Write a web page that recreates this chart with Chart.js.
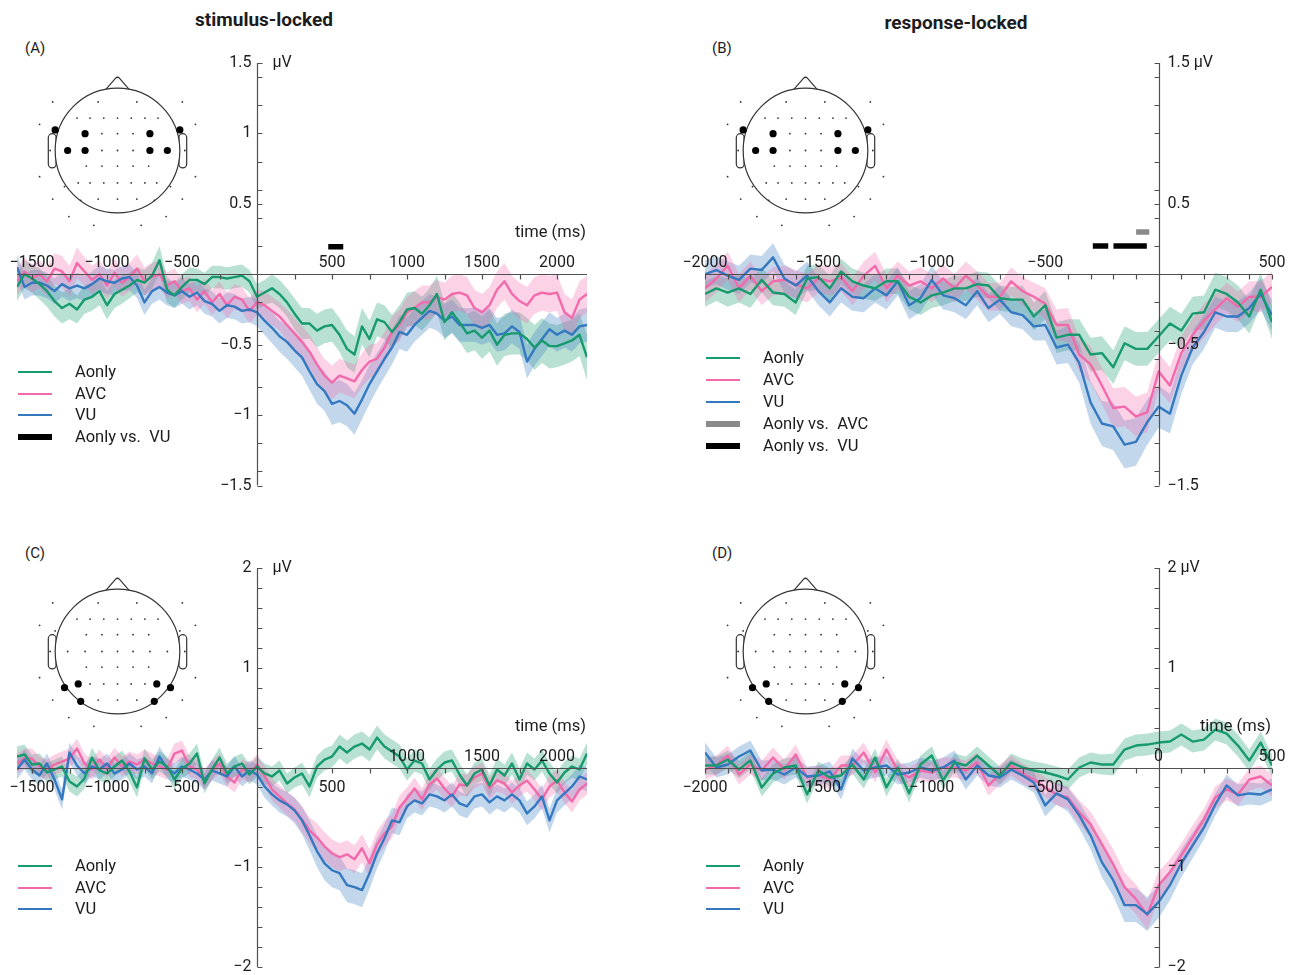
<!DOCTYPE html>
<html><head><meta charset="utf-8">
<script src="https://cdn.jsdelivr.net/npm/chart.js@4.4.1/dist/chart.umd.min.js"></script>
<style>
html,body{margin:0;padding:0;background:#fff;}
body{width:1296px;height:975px;position:relative;overflow:hidden;font-family:Roboto,'DejaVu Sans',sans-serif;color:#1c1c1c;}
canvas{position:absolute;}
.t{position:absolute;white-space:pre;line-height:20px;font-size:16.5px;}
.sw{position:absolute;width:34px;}
</style></head><body>
<script>
// ---------------- time axes (ms) ----------------
const timeStim = [-1600,-1550,-1500,-1450,-1400,-1350,-1300,-1250,-1200,-1150,
 -1100,-1050,-1000,-950,-900,-850,-800,-750,-700,-650,
 -600,-550,-500,-450,-400,-350,-300,-250,-200,-150,
 -100,-50,0,50,100,150,200,250,300,350,
 400,450,500,550,600,650,700,750,800,850,
 900,950,1000,1050,1100,1150,1200,1250,1300,1350,
 1400,1450,1500,1550,1600,1650,1700,1750,1800,1850,
 1900,1950,2000,2050,2100,2150,2200];
const timeResp = [-2000,-1950,-1900,-1850,-1800,-1750,-1700,-1650,-1600,-1550,
 -1500,-1450,-1400,-1350,-1300,-1250,-1200,-1150,-1100,-1050,
 -1000,-950,-900,-850,-800,-750,-700,-650,-600,-550,
 -500,-450,-400,-350,-300,-250,-200,-150,-100,-50,
 0,50,100,150,200,250,300,350,400,450,
 500];

// ---------------- (A) stimulus-locked, fronto-temporal ----------------
const a_Aonly = [-0.09,0.00,-0.03,-0.07,-0.12,-0.19,-0.24,-0.21,-0.25,-0.18,
 -0.16,-0.12,-0.22,-0.14,-0.11,-0.08,-0.04,-0.06,-0.01,0.10,
 -0.11,-0.15,-0.09,-0.04,-0.04,-0.07,-0.02,-0.02,-0.03,-0.02,
 -0.01,-0.05,-0.16,-0.13,-0.10,-0.14,-0.20,-0.28,-0.35,-0.35,
 -0.40,-0.37,-0.36,-0.43,-0.53,-0.57,-0.37,-0.46,-0.32,-0.34,
 -0.41,-0.34,-0.25,-0.24,-0.28,-0.22,-0.14,-0.34,-0.27,-0.34,
 -0.42,-0.40,-0.45,-0.40,-0.50,-0.43,-0.42,-0.42,-0.46,-0.52,
 -0.47,-0.51,-0.51,-0.49,-0.47,-0.43,-0.59];
const a_AVC = [-0.05,0.02,-0.03,0.00,-0.05,0.04,0.02,-0.05,0.08,0.02,
 -0.04,0.00,-0.08,0.01,-0.06,-0.02,0.04,-0.05,-0.02,0.00,
 -0.08,-0.05,-0.12,-0.10,-0.18,-0.12,-0.20,-0.14,-0.22,-0.16,
 -0.18,-0.26,-0.20,-0.22,-0.26,-0.30,-0.36,-0.42,-0.48,-0.55,
 -0.64,-0.72,-0.77,-0.72,-0.74,-0.76,-0.68,-0.62,-0.60,-0.52,
 -0.41,-0.36,-0.27,-0.24,-0.20,-0.20,-0.16,-0.18,-0.14,-0.13,
 -0.15,-0.24,-0.27,-0.22,-0.11,-0.05,-0.14,-0.19,-0.22,-0.15,
 -0.13,-0.14,-0.13,-0.27,-0.31,-0.18,-0.14];
const a_VU = [0.05,-0.09,-0.06,-0.06,-0.08,-0.12,-0.07,-0.10,-0.08,-0.10,
 -0.07,-0.03,-0.05,-0.06,-0.03,-0.02,-0.08,-0.20,-0.12,-0.09,
 -0.13,-0.15,-0.12,-0.16,-0.13,-0.19,-0.21,-0.26,-0.22,-0.23,
 -0.26,-0.25,-0.27,-0.33,-0.38,-0.44,-0.48,-0.54,-0.59,-0.69,
 -0.78,-0.83,-0.92,-0.90,-0.93,-0.99,-0.89,-0.78,-0.69,-0.60,
 -0.52,-0.41,-0.43,-0.36,-0.31,-0.26,-0.28,-0.33,-0.30,-0.36,
 -0.36,-0.36,-0.38,-0.36,-0.43,-0.42,-0.37,-0.41,-0.62,-0.53,
 -0.46,-0.39,-0.43,-0.40,-0.43,-0.37,-0.36];
const a_AonlySE = [0.10,0.10,0.10,0.11,0.11,0.11,0.11,0.11,0.10,0.10,
 0.10,0.10,0.10,0.10,0.10,0.09,0.09,0.09,0.09,0.10,
 0.09,0.09,0.09,0.09,0.08,0.08,0.08,0.08,0.08,0.08,
 0.08,0.08,0.09,0.09,0.10,0.10,0.10,0.11,0.11,0.11,
 0.12,0.12,0.12,0.12,0.13,0.13,0.13,0.13,0.12,0.12,
 0.12,0.12,0.12,0.12,0.12,0.12,0.13,0.13,0.14,0.14,
 0.14,0.14,0.15,0.15,0.15,0.15,0.15,0.15,0.15,0.16,
 0.16,0.16,0.15,0.15,0.15,0.15,0.16];
const a_AVCSE = [0.10,0.10,0.10,0.10,0.10,0.11,0.11,0.11,0.11,0.10,
 0.10,0.10,0.10,0.10,0.10,0.10,0.10,0.10,0.10,0.10,
 0.09,0.09,0.09,0.09,0.09,0.09,0.09,0.09,0.09,0.09,
 0.09,0.09,0.09,0.10,0.10,0.10,0.11,0.11,0.11,0.12,
 0.12,0.12,0.12,0.12,0.12,0.12,0.12,0.12,0.11,0.11,
 0.11,0.11,0.11,0.12,0.12,0.12,0.12,0.12,0.13,0.13,
 0.13,0.13,0.13,0.13,0.13,0.13,0.13,0.13,0.13,0.13,
 0.13,0.13,0.13,0.13,0.13,0.13,0.13];
const a_VUSE = [0.09,0.09,0.09,0.09,0.09,0.09,0.09,0.09,0.09,0.09,
 0.09,0.09,0.09,0.09,0.09,0.09,0.09,0.09,0.09,0.09,
 0.09,0.09,0.09,0.09,0.09,0.09,0.09,0.09,0.09,0.09,
 0.09,0.09,0.10,0.10,0.11,0.11,0.12,0.12,0.13,0.13,
 0.14,0.14,0.15,0.15,0.15,0.15,0.14,0.14,0.13,0.13,
 0.12,0.12,0.12,0.12,0.12,0.12,0.12,0.12,0.12,0.12,
 0.12,0.12,0.12,0.12,0.12,0.12,0.12,0.12,0.12,0.12,
 0.12,0.12,0.12,0.12,0.12,0.12,0.12];
const a_sigVU = [[475, 575]];
const a_sigLevel = 0.195;

// ---------------- (B) response-locked, fronto-temporal ----------------
const b_Aonly = [-0.14,-0.10,-0.13,-0.10,-0.14,-0.04,-0.13,-0.14,-0.20,-0.03,
 -0.02,-0.10,0.02,-0.05,-0.08,-0.10,-0.05,-0.05,-0.16,-0.20,
 -0.15,-0.13,-0.10,-0.10,-0.07,-0.08,-0.17,-0.18,-0.18,-0.30,
 -0.22,-0.45,-0.43,-0.43,-0.57,-0.56,-0.66,-0.49,-0.53,-0.53,
 -0.44,-0.35,-0.40,-0.28,-0.27,-0.11,-0.14,-0.20,-0.30,-0.11,
 -0.34];
const b_AVC = [-0.10,-0.03,0.06,-0.10,-0.01,-0.12,-0.05,-0.04,-0.07,-0.10,
 -0.03,-0.05,-0.02,-0.12,-0.01,0.06,-0.10,-0.01,-0.08,-0.05,
 -0.10,-0.03,-0.10,-0.01,-0.08,-0.16,-0.16,-0.05,-0.12,-0.16,
 -0.21,-0.36,-0.36,-0.57,-0.64,-0.79,-0.95,-0.94,-1.01,-0.98,
 -0.69,-0.79,-0.56,-0.43,-0.33,-0.25,-0.17,-0.23,-0.16,-0.16,
 -0.09];
const b_VU = [0.00,0.03,-0.01,-0.04,0.04,0.03,0.12,-0.03,-0.08,-0.01,
 -0.12,-0.20,-0.10,-0.16,-0.17,-0.10,-0.15,-0.05,-0.22,-0.17,
 -0.04,-0.15,-0.17,-0.22,-0.12,-0.24,-0.18,-0.27,-0.29,-0.37,
 -0.36,-0.52,-0.50,-0.63,-0.91,-1.06,-1.08,-1.21,-1.19,-1.05,
 -0.94,-0.99,-0.72,-0.52,-0.41,-0.27,-0.30,-0.30,-0.24,-0.14,
 -0.29];
const b_AonlySE = [0.09,0.09,0.10,0.10,0.10,0.09,0.09,0.09,0.09,0.09,
 0.09,0.09,0.09,0.09,0.09,0.09,0.09,0.09,0.09,0.09,
 0.09,0.09,0.09,0.09,0.09,0.09,0.09,0.09,0.10,0.10,
 0.10,0.11,0.11,0.11,0.12,0.12,0.12,0.12,0.12,0.12,
 0.12,0.12,0.12,0.12,0.12,0.12,0.12,0.12,0.12,0.12,
 0.12];
const b_AVCSE = [0.10,0.10,0.10,0.10,0.10,0.10,0.10,0.10,0.10,0.10,
 0.10,0.10,0.10,0.10,0.10,0.10,0.10,0.10,0.10,0.10,
 0.10,0.10,0.10,0.10,0.10,0.10,0.10,0.10,0.10,0.10,
 0.11,0.11,0.12,0.12,0.13,0.13,0.14,0.14,0.14,0.14,
 0.13,0.13,0.12,0.12,0.12,0.11,0.11,0.11,0.11,0.11,
 0.11];
const b_VUSE = [0.10,0.10,0.10,0.10,0.10,0.10,0.10,0.10,0.10,0.10,
 0.10,0.10,0.10,0.10,0.10,0.10,0.10,0.10,0.10,0.10,
 0.10,0.10,0.10,0.10,0.10,0.10,0.10,0.10,0.10,0.10,
 0.11,0.12,0.13,0.14,0.15,0.16,0.17,0.17,0.17,0.16,
 0.15,0.14,0.13,0.12,0.12,0.11,0.11,0.11,0.11,0.11,
 0.11];
const b_sigAVC = [[-99, -41]];
const b_sigVU = [[-290, -222], [-199, -52]];
const b_sigLevelAVC = 0.30;
const b_sigLevelVU = 0.20;

// ---------------- (C) stimulus-locked, parieto-occipital ----------------
const c_Aonly = [0.11,0.13,0.03,0.04,-0.05,-0.02,0.01,-0.14,-0.19,-0.11,
 0.10,-0.03,-0.06,0.01,0.07,-0.04,-0.20,0.09,-0.02,0.06,
 0.01,-0.12,-0.01,0.04,0.14,-0.16,-0.02,0.10,-0.06,0.01,
 0.04,-0.07,0.01,-0.06,-0.09,-0.03,-0.16,-0.10,-0.06,-0.19,
 0.01,0.08,0.11,0.21,0.15,0.21,0.24,0.18,0.30,0.21,
 0.16,0.11,-0.02,0.07,0.04,-0.12,-0.02,0.05,0.07,-0.07,
 -0.18,-0.06,-0.02,-0.18,-0.02,-0.08,0.04,-0.12,0.04,-0.02,
 0.07,-0.06,-0.15,-0.05,0.01,-0.02,0.14];
const c_AVC = [0.04,0.09,0.09,0.01,-0.02,0.03,0.06,0.09,0.19,0.04,
 -0.02,0.08,-0.01,0.10,0.01,0.06,0.03,0.08,0.04,0.01,
 -0.02,0.14,0.17,0.01,-0.02,-0.12,-0.03,0.04,-0.09,-0.15,
 -0.02,-0.05,0.03,-0.08,-0.22,-0.29,-0.36,-0.42,-0.52,-0.63,
 -0.70,-0.79,-0.86,-0.90,-0.87,-0.92,-0.81,-0.96,-0.77,-0.66,
 -0.59,-0.40,-0.31,-0.21,-0.32,-0.17,-0.11,-0.21,-0.29,-0.17,
 -0.18,-0.10,-0.06,-0.21,-0.13,-0.16,-0.25,-0.18,-0.13,-0.22,
 -0.32,-0.19,-0.13,-0.25,-0.34,-0.22,-0.16];
const c_VU = [-0.02,0.08,-0.02,-0.08,0.04,-0.12,-0.32,0.15,0.02,-0.06,
 0.01,-0.02,0.04,-0.06,-0.02,0.04,-0.02,0.01,-0.06,0.11,
 -0.01,-0.06,0.01,-0.02,-0.06,-0.12,-0.03,-0.06,-0.09,0.01,
 -0.09,-0.03,-0.07,-0.19,-0.27,-0.33,-0.37,-0.43,-0.53,-0.68,
 -0.84,-0.96,-1.03,-1.06,-1.18,-1.20,-1.23,-1.06,-0.86,-0.71,
 -0.53,-0.55,-0.39,-0.33,-0.36,-0.27,-0.29,-0.33,-0.27,-0.36,
 -0.39,-0.29,-0.27,-0.35,-0.29,-0.33,-0.27,-0.33,-0.46,-0.39,
 -0.29,-0.53,-0.33,-0.26,-0.19,-0.09,-0.12];
const c_AonlySE = [0.10,0.10,0.10,0.10,0.10,0.10,0.10,0.10,0.10,0.10,
 0.10,0.10,0.10,0.10,0.10,0.10,0.10,0.10,0.10,0.10,
 0.10,0.10,0.10,0.10,0.10,0.10,0.10,0.10,0.10,0.10,
 0.10,0.10,0.10,0.10,0.10,0.10,0.10,0.10,0.11,0.11,
 0.11,0.11,0.11,0.12,0.12,0.12,0.12,0.12,0.12,0.12,
 0.12,0.12,0.11,0.11,0.11,0.11,0.11,0.11,0.11,0.11,
 0.11,0.11,0.11,0.11,0.11,0.11,0.11,0.11,0.11,0.11,
 0.11,0.11,0.11,0.11,0.11,0.11,0.11];
const c_AVCSE = [0.10,0.10,0.10,0.10,0.10,0.10,0.10,0.10,0.10,0.10,
 0.10,0.10,0.10,0.10,0.10,0.10,0.10,0.10,0.10,0.10,
 0.10,0.10,0.10,0.10,0.10,0.10,0.10,0.10,0.10,0.10,
 0.10,0.10,0.10,0.10,0.11,0.11,0.12,0.12,0.13,0.13,
 0.14,0.14,0.14,0.14,0.14,0.14,0.14,0.14,0.13,0.13,
 0.12,0.12,0.11,0.11,0.11,0.11,0.11,0.11,0.11,0.11,
 0.11,0.11,0.11,0.11,0.11,0.11,0.11,0.11,0.11,0.11,
 0.11,0.11,0.11,0.11,0.11,0.11,0.11];
const c_VUSE = [0.10,0.10,0.10,0.10,0.10,0.10,0.10,0.10,0.10,0.10,
 0.10,0.10,0.10,0.10,0.10,0.10,0.10,0.10,0.10,0.10,
 0.10,0.10,0.10,0.10,0.10,0.10,0.10,0.10,0.10,0.10,
 0.10,0.10,0.10,0.11,0.11,0.12,0.12,0.13,0.14,0.15,
 0.16,0.17,0.17,0.17,0.17,0.17,0.17,0.16,0.15,0.14,
 0.13,0.13,0.12,0.12,0.12,0.12,0.12,0.12,0.12,0.12,
 0.12,0.12,0.12,0.12,0.12,0.12,0.12,0.12,0.12,0.12,
 0.12,0.12,0.12,0.12,0.12,0.12,0.12];

// ---------------- (D) response-locked, parieto-occipital ----------------
const d_Aonly = [0.02,0.02,0.08,-0.02,0.07,-0.20,-0.06,0.00,0.02,-0.27,
 -0.03,-0.10,-0.08,0.03,-0.12,0.10,-0.20,0.00,-0.26,0.03,
 0.12,-0.13,0.05,0.02,0.12,0.02,-0.08,0.05,0.00,-0.03,
 -0.05,-0.08,-0.12,0.00,0.05,0.03,0.03,0.18,0.22,0.23,
 0.25,0.26,0.33,0.26,0.28,0.38,0.34,0.22,0.07,0.25,
 0.02];
const d_AVC = [-0.02,0.02,0.12,-0.07,0.03,-0.03,0.10,-0.02,0.13,-0.10,
 -0.08,-0.12,0.02,0.02,0.15,-0.05,0.18,-0.03,-0.10,-0.03,
 -0.05,0.00,0.00,-0.03,0.05,-0.18,-0.07,0.02,-0.06,-0.12,
 -0.20,-0.27,-0.30,-0.45,-0.57,-0.77,-0.97,-1.20,-1.32,-1.48,
 -1.18,-1.05,-0.88,-0.70,-0.52,-0.30,-0.22,-0.27,-0.12,-0.09,
 -0.18];
const d_VU = [0.15,0.00,0.03,0.11,0.17,-0.03,-0.02,-0.07,0.00,-0.09,
 -0.08,-0.04,-0.22,0.09,-0.03,0.00,0.02,-0.07,-0.05,0.00,
 -0.03,0.00,0.07,-0.12,0.02,-0.08,-0.10,-0.02,-0.08,-0.15,
 -0.38,-0.26,-0.32,-0.48,-0.68,-0.95,-1.13,-1.38,-1.38,-1.47,
 -1.35,-1.18,-0.96,-0.78,-0.60,-0.37,-0.18,-0.28,-0.26,-0.27,
 -0.22];
const d_AonlySE = [0.09,0.09,0.09,0.09,0.09,0.09,0.09,0.09,0.09,0.09,
 0.09,0.09,0.09,0.09,0.09,0.09,0.09,0.09,0.09,0.09,
 0.09,0.09,0.09,0.09,0.09,0.09,0.09,0.09,0.09,0.09,
 0.09,0.09,0.10,0.10,0.10,0.10,0.11,0.11,0.11,0.11,
 0.11,0.11,0.11,0.11,0.11,0.11,0.11,0.11,0.11,0.11,
 0.11];
const d_AVCSE = [0.10,0.10,0.10,0.10,0.10,0.10,0.10,0.10,0.10,0.10,
 0.10,0.10,0.10,0.10,0.10,0.10,0.10,0.10,0.10,0.10,
 0.10,0.10,0.10,0.10,0.10,0.10,0.10,0.10,0.10,0.10,
 0.10,0.11,0.11,0.12,0.13,0.14,0.15,0.15,0.15,0.15,
 0.14,0.13,0.12,0.12,0.11,0.11,0.11,0.11,0.11,0.11,
 0.11];
const d_VUSE = [0.10,0.10,0.10,0.10,0.10,0.10,0.10,0.10,0.10,0.10,
 0.10,0.10,0.10,0.10,0.10,0.10,0.10,0.10,0.10,0.10,
 0.10,0.10,0.10,0.10,0.10,0.10,0.10,0.10,0.10,0.10,
 0.11,0.11,0.12,0.13,0.14,0.15,0.16,0.17,0.17,0.17,
 0.16,0.15,0.14,0.13,0.12,0.11,0.11,0.11,0.11,0.11,
 0.11];

// ---------------- tick labels ----------------
const xLabelsA_above = [-1500,-1000,-500,500,1000,1500,2000];
const xLabelsB_above = [-2000,-1500,-1000,-500,500];
const xLabelsC_below = [-1500,-1000,-500,500];
const xLabelsC_above = [1000,1500,2000];
const xLabelsD_below = [-2000,-1500,-1000,-500];
const xLabelsD_above = [0,500];
const yLabelsA = [1.5,1,0.5,-0.5,-1,-1.5];
const yLabelsB = [1.5,0.5,-0.5,-1.5];
const yLabelsCD = [2,1,-1,-2];
const yTicksAB = [-1.5,-1.4,-1.2,-1,-0.8,-0.6,-0.5,-0.4,-0.2,0.2,0.4,0.5,0.6,0.8,1,1.2,1.4,1.5];
const yTicksCD = [-2,-1.8,-1.6,-1.4,-1.2,-1,-0.8,-0.6,-0.4,-0.2,0.2,0.4,0.6,0.8,1,1.2,1.4,1.6,1.8,2];
const xTicksStim = [-1500,-1250,-1000,-750,-500,-250,250,500,750,1000,1250,1500,1750,2000];
const xTicksResp = [-2000,-1900,-1800,-1700,-1600,-1500,-1400,-1300,-1200,-1100,-1000,-900,-800,-700,-600,-500,-400,-300,-200,-100,100,200,300,400,500];

// ---------------- head montage (normalised units, radius 1) ----------------
const headGrid = [
 [-1.04,-0.78],[-0.31,-0.78],[0.31,-0.78],[1.04,-0.78],
 [-0.65,-0.52],[-0.44,-0.52],[-0.22,-0.52],[0,-0.52],[0.22,-0.52],[0.44,-0.52],[0.65,-0.52],
 [-1.25,-0.42],[1.25,-0.42],[-1.0,-0.33],[1.0,-0.33],
 [-0.5,-0.27],[-0.25,-0.27],[0,-0.27],[0.25,-0.27],[0.5,-0.27],
 [-1.08,0],[-0.8,0],[-0.52,0],[-0.25,0],[0,0],[0.25,0],[0.52,0],[0.8,0],[1.08,0],
 [-0.5,0.25],[-0.25,0.25],[0,0.25],[0.25,0.25],[0.5,0.25],
 [-1.25,0.42],[1.25,0.42],
 [-0.63,0.52],[-0.44,0.52],[-0.22,0.52],[0,0.52],[0.22,0.52],[0.44,0.52],[0.63,0.52],
 [-0.85,0.58],[0.85,0.58],
 [-1.04,0.78],[-0.31,0.78],[0,0.78],[0.31,0.78],[1.04,0.78],
 [-0.59,0.8],[0.59,0.8],
 [-0.78,1.06],[0.78,1.06],[-0.38,1.2],[0.38,1.2]];
const headSelFT = [[-1.0,-0.33],[-0.52,-0.27],[-0.8,0],[-0.52,0],[1.0,-0.33],[0.52,-0.27],[0.8,0],[0.52,0]];
const headSelPO = [[-0.85,0.58],[-0.63,0.52],[-0.59,0.8],[0.85,0.58],[0.63,0.52],[0.59,0.8]];

// ---------------- styling ----------------
const GREEN = '#179a6d', PINK = '#f26aab', BLUE = '#3479c0', GREY = '#8a8a8a';
const TXT = '#1c1c1c', AX = '#505050';
const FONT = "Roboto, 'DejaVu Sans', sans-serif";

function rgba(hex, a){const n=parseInt(hex.slice(1),16);return `rgba(${n>>16&255},${n>>8&255},${n&255},${a})`;}
function fmt(v){return String(v).replace('-', '\u2212');}

function bandSets(times, vals, se, color){
  const up = times.map((t,i)=>({x:t, y: vals[i] + (se[i] ?? se[se.length-1])}));
  const lo = times.map((t,i)=>({x:t, y: vals[i] - (se[i] ?? se[se.length-1])}));
  return [
    {data:up, borderWidth:0, pointRadius:0, fill:'+1', backgroundColor:rgba(color,0.3), order:10},
    {data:lo, borderWidth:0, pointRadius:0, fill:false, backgroundColor:'transparent', order:10}
  ];
}
function lineSet(times, vals, color, order){
  return {data: times.map((t,i)=>({x:t,y:vals[i]})), borderColor:color, borderWidth:2.4, pointRadius:0, fill:false, order:order, borderJoinStyle:'round'};
}
function sigSets(intervals, level, color){
  return intervals.map(([a,b])=>({data:[{x:a,y:level},{x:b,y:level}], borderColor:color, borderWidth:5.5, borderCapStyle:'butt', pointRadius:0, fill:false, order:0}));
}

function axesPlugin(cfg){
  return {id:'erpAxes', afterDatasetsDraw(chart){
    const {ctx, chartArea:ca} = chart; const xs = chart.scales.x, ys = chart.scales.y;
    const x0 = Math.round(xs.getPixelForValue(0)) + 0.5;
    const y0 = Math.round(ys.getPixelForValue(0)) + 0.5;
    ctx.save();
    ctx.strokeStyle = AX; ctx.lineWidth = 1.2;
    ctx.beginPath();
    ctx.moveTo(ca.left, y0); ctx.lineTo(ca.right, y0);
    cfg.xTicks.forEach(t=>{const p=Math.round(xs.getPixelForValue(t))+0.5; ctx.moveTo(p,y0); ctx.lineTo(p,y0+5);});
    ctx.moveTo(x0, ca.top); ctx.lineTo(x0, ca.bottom);
    cfg.yTicks.forEach(v=>{const p=Math.round(ys.getPixelForValue(v))+0.5; ctx.moveTo(x0,p); ctx.lineTo(x0+cfg.yTickDir*5,p);});
    ctx.stroke();
    ctx.fillStyle = TXT; ctx.font = '16px ' + FONT; ctx.textBaseline = 'middle'; ctx.textAlign = 'center';
    (cfg.xAbove||[]).forEach(t=>ctx.fillText(fmt(t), xs.getPixelForValue(t), y0-12));
    (cfg.xBelow||[]).forEach(t=>ctx.fillText(fmt(t), xs.getPixelForValue(t), y0+19));
    if (cfg.ySide === 'left'){
      ctx.textAlign = 'right';
      cfg.yLabels.forEach(v=>ctx.fillText(fmt(v), x0-6, ys.getPixelForValue(v)));
      ctx.textAlign = 'left';
      ctx.fillText('\u00b5V', x0+15, ys.getPixelForValue(cfg.yUnitAt));
    } else {
      ctx.textAlign = 'left';
      cfg.yLabels.forEach(v=>ctx.fillText(fmt(v) + (v===cfg.yUnitAt?' \u00b5V':''), x0+8, ys.getPixelForValue(v)));
    }
    if (cfg.timeLabel){ ctx.font = '16.5px ' + FONT; ctx.textAlign='right'; ctx.fillText('time (ms)', ca.right-1, y0-42); }
    ctx.restore();
  }};
}

function makeCanvas(left, top, w, h, z){
  const c = document.createElement('canvas');
  c.width = w; c.height = h;
  c.style.left = left+'px'; c.style.top = top+'px'; c.style.width = w+'px'; c.style.height = h+'px';
  c.style.zIndex = z||1;
  document.body.appendChild(c); return c;
}

function erpChart(box, pad, times, xr, yr, series, sigs, cfg){
  const cv = makeCanvas(box[0], box[1], box[2], box[3], 1);
  const ds = [];
  series.forEach(s=>ds.push(...bandSets(times, s.v, s.se, s.c)));
  series.forEach(s=>ds.push(lineSet(times, s.v, s.c, s.o)));
  sigs.forEach(s=>ds.push(...s));
  return new Chart(cv.getContext('2d'), {
    type:'line', data:{datasets:ds},
    options:{
      animation:false, responsive:false, maintainAspectRatio:false,
      layout:{padding:pad},
      scales:{x:{type:'linear', min:xr[0], max:xr[1], display:false}, y:{type:'linear', min:yr[0], max:yr[1], display:false}},
      plugins:{legend:{display:false}, tooltip:{enabled:false}},
      elements:{line:{tension:0}}
    },
    plugins:[axesPlugin(cfg)]
  });
}

const headOutline = {id:'headOutline', beforeDatasetsDraw(chart){
  const {ctx} = chart; const xs = chart.scales.x, ys = chart.scales.y;
  const X = v=>xs.getPixelForValue(v), Y = v=>ys.getPixelForValue(v);
  const cx = X(0), cy = Y(0), r = Math.abs(X(1)-cx);
  ctx.save(); ctx.strokeStyle = '#333'; ctx.lineWidth = 1.2; ctx.fillStyle = '#fff';
  ctx.beginPath(); ctx.moveTo(X(-0.19), Y(-0.975)); ctx.lineTo(X(-0.03), Y(-1.16));
  ctx.quadraticCurveTo(X(0), Y(-1.19), X(0.03), Y(-1.16)); ctx.lineTo(X(0.19), Y(-0.975)); ctx.stroke();
  [-1,1].forEach(s=>{
    const xa = X(s<0?-1.11:0.985), xb = X(s<0?-0.985:1.11);
    ctx.beginPath(); ctx.roundRect(Math.min(xa,xb), Y(-0.27), Math.abs(xb-xa), Y(0.28)-Y(-0.27), 4); ctx.fill(); ctx.stroke();
  });
  ctx.beginPath(); ctx.arc(cx, cy, r, 0, Math.PI*2); ctx.fill(); ctx.stroke();
  ctx.restore();
}};

function headChart(cx, cy, sel){
  const size = 195;
  const cv = makeCanvas(cx - size/2, cy - size/2, size, size, 3);
  return new Chart(cv.getContext('2d'), {
    type:'scatter',
    data:{datasets:[
      {data: sel.map(([x,y])=>({x,y})), pointRadius:3.6, pointBackgroundColor:'#000', pointBorderWidth:0},
      {data: headGrid.map(([x,y])=>({x,y})), pointRadius:0.9, pointBackgroundColor:'#333', pointBorderWidth:0}
    ]},
    options:{animation:false, responsive:false, layout:{padding:0},
      scales:{x:{display:false,min:-1.5,max:1.5}, y:{display:false,min:-1.5,max:1.5,reverse:true}},
      plugins:{legend:{display:false}, tooltip:{enabled:false}}},
    plugins:[headOutline]
  });
}

function addText(txt, left, top, css){
  const d = document.createElement('div'); d.className='t'; d.textContent = txt;
  d.style.left = left+'px'; d.style.top = top+'px'; if (css) d.style.cssText += css;
  document.body.appendChild(d); return d;
}
function addLegend(xLine, xText, ys, items){
  items.forEach((it,i)=>{
    const s = document.createElement('div'); s.className='sw';
    const h = it.h||2.6;
    s.style.left = xLine+'px'; s.style.top = (ys[i]-h/2)+'px'; s.style.height = h+'px'; s.style.background = it.c;
    document.body.appendChild(s);
    addText(it.label, xText, ys[i]-10, 'z-index:5');
  });
}

function build(){
  Chart.defaults.font.family = FONT;
  erpChart([0,0,648,500], {left:17,right:61,top:63,bottom:14.5}, timeStim, [-1600,2200], [-1.5,1.5],
    [{v:a_AVC,se:a_AVCSE,c:PINK,o:3},{v:a_VU,se:a_VUSE,c:BLUE,o:2},{v:a_Aonly,se:a_AonlySE,c:GREEN,o:1}],
    [sigSets(a_sigVU, a_sigLevel, '#000')],
    {xTicks:xTicksStim, yTicks:yTicksAB, yTickDir:1, xAbove:xLabelsA_above, yLabels:yLabelsA, ySide:'left', yUnitAt:1.5, timeLabel:true});
  erpChart([648,0,648,500], {left:57,right:24,top:63,bottom:14.5}, timeResp, [-2000,500], [-1.5,1.5],
    [{v:b_AVC,se:b_AVCSE,c:PINK,o:3},{v:b_VU,se:b_VUSE,c:BLUE,o:2},{v:b_Aonly,se:b_AonlySE,c:GREEN,o:1}],
    [sigSets(b_sigAVC, b_sigLevelAVC, GREY), sigSets(b_sigVU, b_sigLevelVU, '#000')],
    {xTicks:xTicksResp, yTicks:yTicksAB, yTickDir:-1, xAbove:xLabelsB_above, yLabels:yLabelsB, ySide:'right', yUnitAt:1.5, timeLabel:false});
  erpChart([0,490,648,485], {left:17,right:61,top:78,bottom:8}, timeStim, [-1600,2200], [-2,2],
    [{v:c_AVC,se:c_AVCSE,c:PINK,o:3},{v:c_VU,se:c_VUSE,c:BLUE,o:2},{v:c_Aonly,se:c_AonlySE,c:GREEN,o:1}],
    [],
    {xTicks:xTicksStim, yTicks:yTicksCD, yTickDir:1, xAbove:xLabelsC_above, xBelow:xLabelsC_below, yLabels:yLabelsCD, ySide:'left', yUnitAt:2, timeLabel:true});
  erpChart([648,490,648,485], {left:57,right:24,top:78,bottom:8}, timeResp, [-2000,500], [-2,2],
    [{v:d_AVC,se:d_AVCSE,c:PINK,o:3},{v:d_VU,se:d_VUSE,c:BLUE,o:2},{v:d_Aonly,se:d_AonlySE,c:GREEN,o:1}],
    [],
    {xTicks:xTicksResp, yTicks:yTicksCD, yTickDir:-1, xAbove:xLabelsD_above, xBelow:xLabelsD_below, yLabels:yLabelsCD, ySide:'right', yUnitAt:2, timeLabel:true});

  headChart(117.5, 150.5, headSelFT);
  headChart(805, 150.5, headSelFT);
  headChart(117.5, 651, headSelPO);
  headChart(805, 651, headSelPO);

  addText('stimulus-locked', 114, 8, 'width:300px;text-align:center;font-weight:bold;font-size:19px;line-height:24px;');
  addText('response-locked', 806, 11, 'width:300px;text-align:center;font-weight:bold;font-size:19px;line-height:24px;');
  addText('(A)', 25, 38, 'font-size:15px;');
  addText('(B)', 712, 38, 'font-size:15px;');
  addText('(C)', 25, 543, 'font-size:15px;');
  addText('(D)', 712, 543, 'font-size:15px;');

  addLegend(18, 75, [372,394,415,437], [
    {label:'Aonly', c:GREEN},{label:'AVC', c:PINK},{label:'VU', c:BLUE},{label:'Aonly vs.  VU', c:'#000', h:6}]);
  addLegend(706, 763, [358,380,402,424,446], [
    {label:'Aonly', c:GREEN},{label:'AVC', c:PINK},{label:'VU', c:BLUE},{label:'Aonly vs.  AVC', c:GREY, h:6},{label:'Aonly vs.  VU', c:'#000', h:6}]);
  addLegend(18, 75, [866,888,909], [
    {label:'Aonly', c:GREEN},{label:'AVC', c:PINK},{label:'VU', c:BLUE}]);
  addLegend(706, 763, [866,888,909], [
    {label:'Aonly', c:GREEN},{label:'AVC', c:PINK},{label:'VU', c:BLUE}]);
}

if (document.fonts && document.fonts.load) {
  Promise.all([document.fonts.load('16px Roboto'), document.fonts.load('bold 19px Roboto')]).then(build, build);
} else { build(); }
</script>
</body></html>
